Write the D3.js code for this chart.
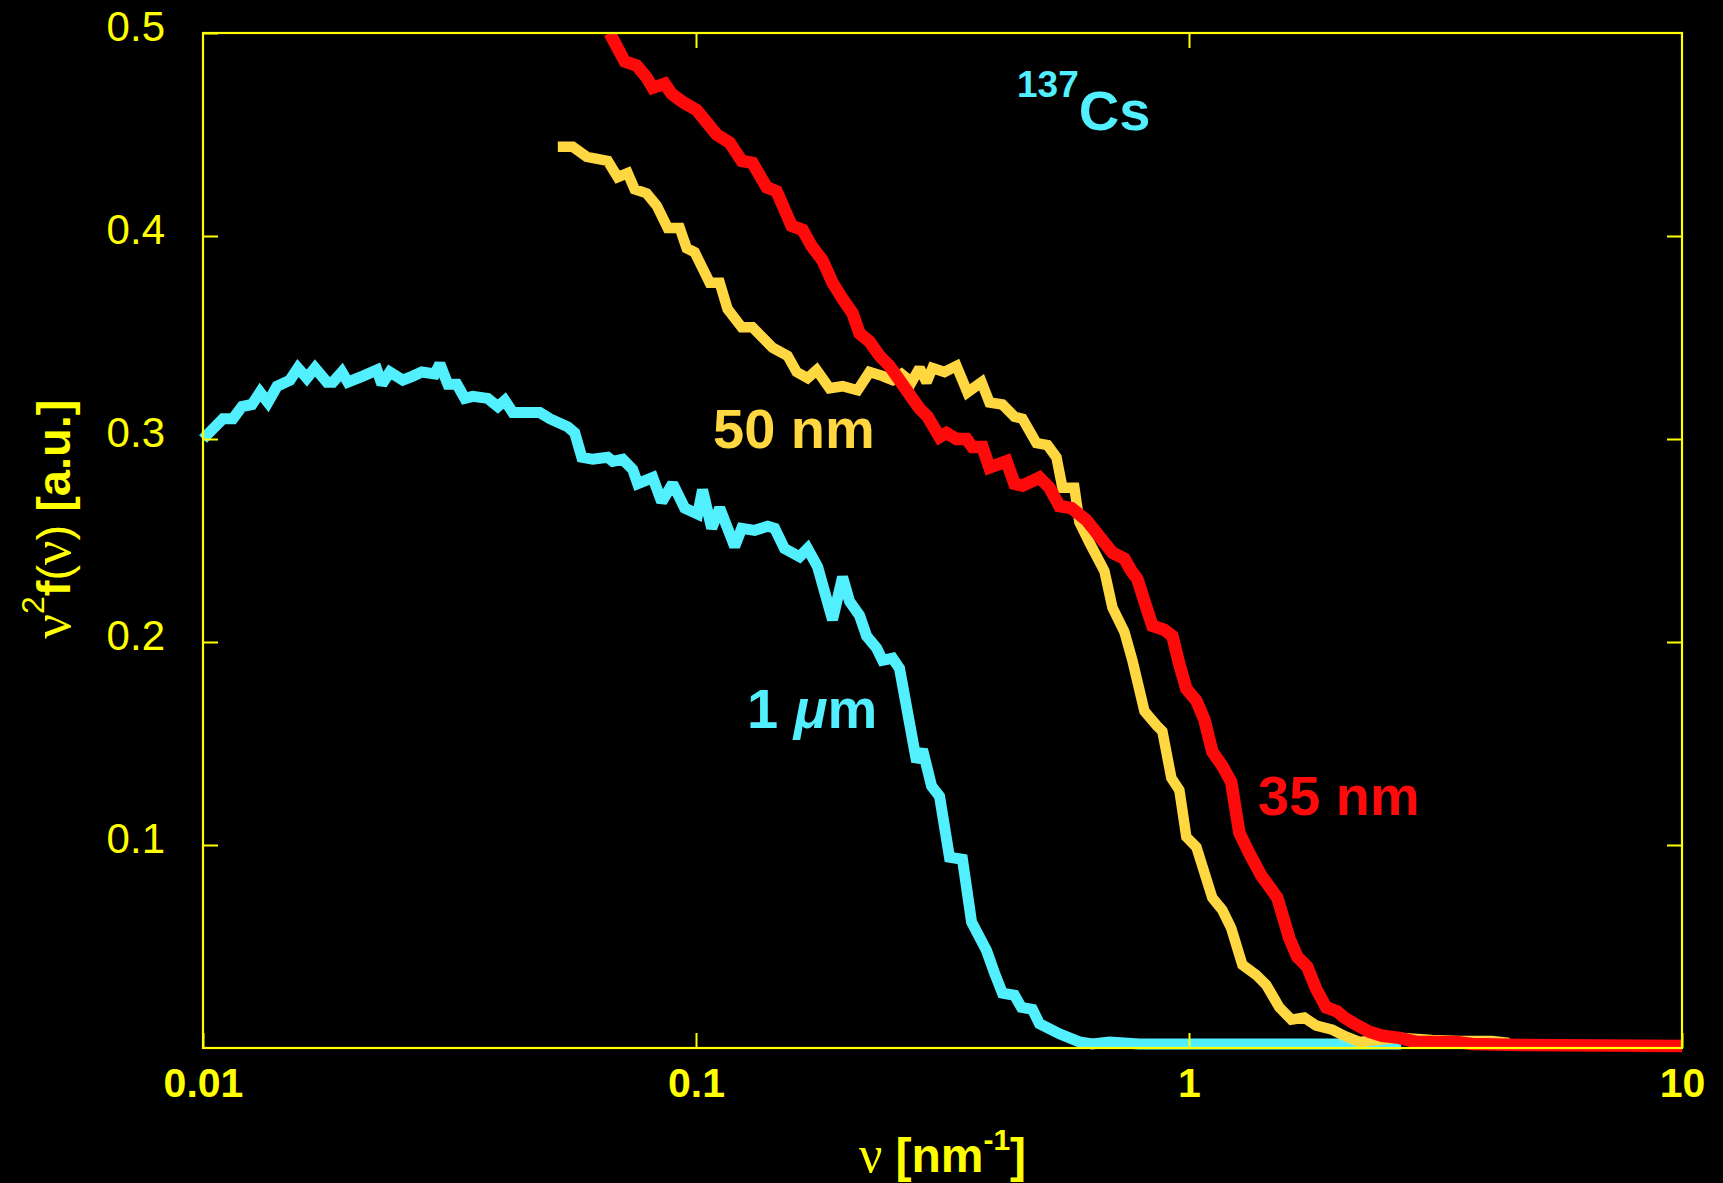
<!DOCTYPE html>
<html>
<head>
<meta charset="utf-8">
<script src="https://cdn.jsdelivr.net/npm/d3@7"></script>
<style>
  html, body { margin: 0; padding: 0; background: #000; }
  svg { display: block; }
</style>
</head>
<body>
<script>
// ν²f(ν) spectra for three particle sizes (log ν axis)
const cyanNu = [0.0100,0.01098,0.01150,0.01200,0.01257,0.01305,0.01354,0.01413,0.01501,0.01558,0.01624,0.01687,0.01784,0.01834,0.01913,0.01967,0.02110,0.02253,0.02306,0.02393,0.02543,0.02665,0.02779,0.02953,0.03023,0.03138,0.03273,0.03397,0.03526,0.03781,0.03963,0.04094,0.04250,0.04822,0.05052,0.05495,0.05677,0.05866,0.06174,0.06622,0.06779,0.07101,0.07440,0.07616,0.08171,0.08520,0.08969,0.09485,0.1008,0.1031,0.1076,0.1117,0.1198,0.1238,0.1315,0.1398,0.1444,0.1512,0.1622,0.1684,0.1765,0.1892,0.1983,0.2049,0.2147,0.2218,0.2324,0.2390,0.2504,0.2587,0.2802,0.2881,0.3005,0.3119,0.3267,0.3471,0.3622,0.3884,0.4031,0.4184,0.4426,0.4572,0.4813,0.4973,0.5460,0.5994,0.6370,0.6895,0.7930,2.694];
const cyanF  = [0.300,0.310,0.310,0.316,0.317,0.323,0.318,0.326,0.329,0.335,0.330,0.335,0.328,0.328,0.333,0.328,0.331,0.334,0.327,0.333,0.329,0.331,0.333,0.332,0.337,0.327,0.327,0.320,0.321,0.320,0.316,0.319,0.313,0.313,0.310,0.306,0.303,0.291,0.290,0.291,0.289,0.290,0.285,0.278,0.281,0.269,0.278,0.266,0.263,0.275,0.256,0.266,0.247,0.256,0.255,0.257,0.256,0.246,0.242,0.246,0.237,0.211,0.232,0.220,0.213,0.203,0.197,0.191,0.192,0.187,0.141,0.147,0.129,0.124,0.094,0.093,0.062,0.048,0.037,0.027,0.026,0.020,0.019,0.012,0.007,0.003,0.002,0.003,0.002,0.002];

const goldNu = [0.05245,0.05623,0.06003,0.06622,0.06937,0.07267,0.07509,0.07943,0.08323,0.08760,0.09268,0.09574,0.09938,0.1066,0.1117,0.1159,0.1238,0.1302,0.1430,0.1534,0.1600,0.1684,0.1757,0.1866,0.1983,0.2127,0.2249,0.2390,0.2504,0.2612,0.2737,0.2841,0.2935,0.3018,0.3192,0.3376,0.3553,0.3795,0.3938,0.4184,0.4426,0.4595,0.4904,0.5163,0.5384,0.5537,0.5855,0.5994,0.6281,0.6736,0.6993,0.7395,0.7676,0.8120,0.8587,0.8831,0.9210,0.9560,0.9876,1.035,1.115,1.168,1.218,1.283,1.369,1.435,1.525,1.613,1.713,1.812,1.953,2.065,2.215,2.670,3.113,3.532,4.120,4.460];
const goldF  = [0.444,0.444,0.439,0.437,0.429,0.431,0.423,0.421,0.415,0.404,0.404,0.394,0.392,0.377,0.377,0.364,0.355,0.355,0.345,0.341,0.333,0.330,0.334,0.325,0.326,0.324,0.333,0.331,0.329,0.332,0.328,0.335,0.328,0.335,0.333,0.336,0.323,0.328,0.318,0.317,0.311,0.310,0.298,0.297,0.291,0.276,0.276,0.259,0.249,0.235,0.217,0.205,0.191,0.166,0.159,0.156,0.133,0.127,0.104,0.099,0.074,0.068,0.059,0.041,0.036,0.031,0.020,0.014,0.015,0.011,0.009,0.006,0.003,0.005,0.004,0.0035,0.0035,0.0025];

const redNu = [0.0668,0.07169,0.07581,0.07943,0.08169,0.08640,0.08927,0.09397,0.1003,0.1051,0.1101,0.1170,0.1238,0.1302,0.1391,0.1457,0.1563,0.1645,0.1716,0.1806,0.1892,0.1983,0.2077,0.2147,0.2249,0.2357,0.2469,0.2587,0.2710,0.2841,0.2949,0.3119,0.3222,0.3376,0.3537,0.3638,0.3812,0.3938,0.4264,0.4426,0.4595,0.4973,0.5212,0.5460,0.5774,0.6194,0.6580,0.6993,0.7395,0.7641,0.7859,0.8196,0.8428,0.8913,0.9251,0.9560,0.9876,1.035,1.074,1.115,1.168,1.218,1.265,1.325,1.401,1.511,1.598,1.658,1.737,1.812,1.898,1.998,2.065,2.164,2.320,2.466,2.670,2.889,3.483,3.752,4.674,10];
const redF  = [0.500,0.486,0.484,0.478,0.473,0.475,0.470,0.466,0.462,0.456,0.450,0.446,0.437,0.436,0.424,0.422,0.405,0.403,0.395,0.388,0.377,0.369,0.362,0.352,0.348,0.341,0.336,0.329,0.322,0.315,0.311,0.301,0.303,0.300,0.300,0.296,0.296,0.286,0.289,0.278,0.277,0.281,0.276,0.267,0.266,0.260,0.252,0.244,0.241,0.235,0.231,0.217,0.208,0.206,0.203,0.189,0.177,0.171,0.162,0.146,0.139,0.131,0.106,0.096,0.085,0.074,0.054,0.045,0.040,0.029,0.020,0.018,0.015,0.012,0.008,0.006,0.005,0.003,0.003,0.002,0.0015,0.001];

const xTickValues = [0.01, 0.1, 1, 10];
const xTickLabels = ["0.01", "0.1", "1", "10"];
const yTickValues = [0.1, 0.2, 0.3, 0.4, 0.5];
const yTickLabels = ["0.1", "0.2", "0.3", "0.4", "0.5"];

const W = 1723, H = 1183;
const margin = { left: 203, right: 41, top: 33, bottom: 135 };
const AXIS = "#ffff00";
const CYAN = "#52f0ff", GOLD = "#ffd740", RED = "#ff0a0a";

const svg = d3.select("body").append("svg")
  .attr("width", W).attr("height", H)
  .style("background", "#000");

const x = d3.scaleLog().domain([0.01, 10]).range([margin.left, W - margin.right]);
const y = d3.scaleLinear().domain([0, 0.5]).range([H - margin.bottom, margin.top]);

// clip curves at the top/left of the frame, leave room for thick strokes at the bottom
svg.append("defs").append("clipPath").attr("id", "plotClip")
  .append("rect")
  .attr("x", margin.left - 8).attr("y", margin.top)
  .attr("width", W - margin.left - margin.right + 16)
  .attr("height", H - margin.top - margin.bottom + 12);

const series = [
  { nu: cyanNu, f: cyanF, color: CYAN, width: 11 },
  { nu: goldNu, f: goldF, color: GOLD, width: 10.5 },
  { nu: redNu,  f: redF,  color: RED,  width: 12.5 }
];

const line = d3.line().x(d => x(d[0])).y(d => y(d[1]));
const curves = svg.append("g").attr("clip-path", "url(#plotClip)");
series.forEach(s => {
  curves.append("path")
    .datum(s.nu.map((v, i) => [v, s.f[i]]))
    .attr("d", line)
    .attr("fill", "none")
    .attr("stroke", s.color)
    .attr("stroke-width", s.width)
    .attr("stroke-linejoin", "miter")
    .attr("stroke-miterlimit", 2);
});

// axes (ticks point inward), drawn over the curves
const tickLen = 15;
const fmtX = v => xTickLabels[xTickValues.indexOf(v)];
const fmtY = v => yTickLabels[yTickValues.indexOf(v)];

const gBottom = svg.append("g")
  .attr("transform", `translate(0,${H - margin.bottom})`)
  .call(d3.axisBottom(x).tickValues(xTickValues).tickFormat(fmtX)
    .tickSizeInner(-tickLen).tickSizeOuter(0).tickPadding(49));
gBottom.selectAll("text")
  .attr("dy", 0)
  .attr("fill", AXIS)
  .style("font-family", "'Liberation Sans', Arial, sans-serif")
  .style("font-weight", "bold")
  .style("font-size", "41px");

const gTop = svg.append("g")
  .attr("transform", `translate(0,${margin.top})`)
  .call(d3.axisTop(x).tickValues([0.1, 1]).tickFormat("")
    .tickSizeInner(-tickLen).tickSizeOuter(0));

const gLeft = svg.append("g")
  .attr("transform", `translate(${margin.left},0)`)
  .call(d3.axisLeft(y).tickValues(yTickValues).tickFormat(fmtY)
    .tickSizeInner(-tickLen).tickSizeOuter(0).tickPadding(38));
gLeft.selectAll("text")
  .attr("dy", "0.19em")
  .attr("fill", AXIS)
  .style("font-family", "'Liberation Sans', Arial, sans-serif")
  .style("font-size", "42px");

const gRight = svg.append("g")
  .attr("transform", `translate(${W - margin.right},0)`)
  .call(d3.axisRight(y).tickValues([0.1, 0.2, 0.3, 0.4]).tickFormat("")
    .tickSizeInner(-tickLen).tickSizeOuter(0));

[gBottom, gTop, gLeft, gRight].forEach(g => {
  g.select(".domain").remove();
  g.selectAll(".tick line").attr("stroke", AXIS).attr("stroke-width", 2);
});

// frame
svg.append("rect")
  .attr("x", margin.left).attr("y", margin.top)
  .attr("width", W - margin.left - margin.right)
  .attr("height", H - margin.top - margin.bottom)
  .attr("fill", "none").attr("stroke", AXIS).attr("stroke-width", 2.2);

const SANS = "'Liberation Sans', Arial, Helvetica, sans-serif";
const SERIF = "'Liberation Serif', 'DejaVu Serif', serif";

// x-axis title: ν [nm⁻¹]
const xt = svg.append("text")
  .attr("x", (margin.left + W - margin.right) / 2).attr("y", 1172)
  .attr("text-anchor", "middle").attr("fill", AXIS)
  .style("font-family", SANS).style("font-size", "48px").style("font-weight", "bold");
xt.append("tspan").style("font-family", SERIF).style("font-weight", "normal").style("font-size", "52px").text("ν ");
xt.append("tspan").text("[nm");
xt.append("tspan").attr("dy", -22).style("font-size", "30px").text("-1");
xt.append("tspan").attr("dy", 22).text("]");

// y-axis title: ν²f(ν) [a.u.]
const yt = svg.append("text")
  .attr("transform", "translate(70,519) rotate(-90)")
  .attr("text-anchor", "middle").attr("fill", AXIS)
  .style("font-family", SANS).style("font-size", "47px").style("font-weight", "bold");
yt.append("tspan").style("font-family", SERIF).style("font-weight", "normal").style("font-size", "54px").text("ν");
yt.append("tspan").attr("dy", -26).style("font-size", "32px").style("font-weight", "normal").text("2");
yt.append("tspan").attr("dy", 26).text("f");
yt.append("tspan").style("font-weight", "normal").text("(");
yt.append("tspan").style("font-family", SERIF).style("font-weight", "normal").style("font-size", "54px").text("ν");
yt.append("tspan").style("font-weight", "normal").text(")");
yt.append("tspan").text(" [a.u.]");

// curve labels
const lab = (xx, yy, txt, color) => svg.append("text")
  .attr("x", xx).attr("y", yy).attr("fill", color)
  .style("font-family", SANS).style("font-weight", "bold").style("font-size", "56px")
  .text(txt);

lab(713, 448, "50 nm", GOLD);
lab(1258, 815, "35 nm", RED);
const um = lab(747, 728, "", CYAN);
um.append("tspan").text("1 ");
um.append("tspan").style("font-style", "italic").text("μ");
um.append("tspan").text("m");

// isotope tag
const cs = svg.append("text").attr("x", 1017).attr("y", 130).attr("fill", CYAN)
  .style("font-family", SANS).style("font-weight", "bold").style("font-size", "56px");
cs.append("tspan").attr("dy", -33).style("font-size", "37px").text("137");
cs.append("tspan").attr("dy", 33).text("Cs");
</script>
</body>
</html>
